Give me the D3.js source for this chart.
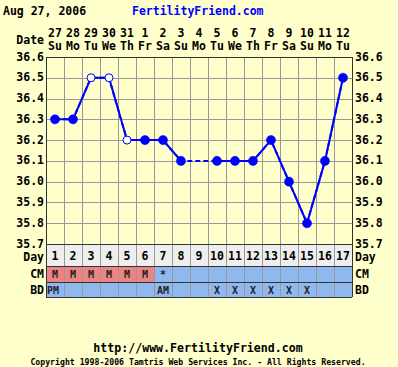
<!DOCTYPE html>
<html lang="en">
<head>
    <meta charset="UTF-8">
    <title>Fertility chart</title>
    <style>
        body,
        html {
            margin: 0;
            padding: 0;
            background: #ffffcc;
        }
        text {
            font-family: "DejaVu Sans Mono", monospace;
            font-weight: bold;
        }
    </style>
    <script src="https://d3js.org/d3.v7.min.js"></script>
</head>
<body>
<div id="chart"></div>
<script>
    // chart data
    const dayNums = [1, 2, 3, 4, 5, 6, 7, 8, 9, 10, 11, 12, 13, 14, 15, 16, 17];
    const dates = ["27", "28", "29", "30", "31", "1", "2", "3", "4", "5", "6", "7", "8", "9", "10", "11", "12"];
    const weekdays = ["Su", "Mo", "Tu", "We", "Th", "Fr", "Sa", "Su", "Mo", "Tu", "We", "Th", "Fr", "Sa", "Su", "Mo", "Tu"];
    const temps = [36.3, 36.3, 36.5, 36.5, 36.2, 36.2, 36.2, 36.1, null, 36.1, 36.1, 36.1, 36.2, 36.0, 35.8, 36.1, 36.5];
    const openPoint = [false, false, true, true, true, false, false, false, false, false, false, false, false, false, false, false, false];
    const cm = ["M", "M", "M", "M", "M", "M", "*", "", "", "", "", "", "", "", "", "", ""];
    const bd = ["PM", "", "", "", "", "", "AM", "", "", "X", "X", "X", "X", "X", "X", "", ""];
    const yTicks = [36.6, 36.5, 36.4, 36.3, 36.2, 36.1, 36.0, 35.9, 35.8, 35.7];

    (function () {
        const width = 398, height = 367;
        const pLeft = 46, pRight = 352, pTop = 57, pBottom = 244;

        const svg = d3.select('#chart').append('svg')
            .attr('width', width).attr('height', height)
            .style('display', 'block');

        svg.append('rect').attr('width', width).attr('height', height).attr('fill', '#ffffcc');

        const x = d3.scaleBand().domain(dayNums).range([pLeft, pRight]);
        const y = d3.scaleLinear().domain([35.7, 36.6]).range([pBottom, pTop]);
        const cx = d => x(d) + x.bandwidth() / 2;

        // header
        svg.append('text').attr('x', 3).attr('y', 15).attr('font-size', 11.5)
            .text('Aug 27, 2006');
        svg.append('text').attr('x', 132).attr('y', 15).attr('font-size', 11.5)
            .attr('fill', '#0000ff').text('FertilityFriend.com');

        svg.append('text').attr('x', 44).attr('y', 44).attr('font-size', 11.5)
            .attr('text-anchor', 'end').text('Date');
        svg.selectAll('.dnum').data(dayNums).enter().append('text')
            .attr('x', d => cx(d)).attr('y', 37).attr('font-size', 11.5)
            .attr('text-anchor', 'middle').text((d, i) => dates[i]);
        svg.selectAll('.wday').data(dayNums).enter().append('text')
            .attr('x', d => cx(d)).attr('y', 50).attr('font-size', 11.5)
            .attr('text-anchor', 'middle').text((d, i) => weekdays[i]);

        // table rows
        const rowDay = [pBottom, 266], rowCM = [266, 282], rowBD = [282, 297];
        svg.append('rect').attr('x', pLeft).attr('y', rowDay[0]).attr('width', pRight - pLeft)
            .attr('height', rowDay[1] - rowDay[0]).attr('fill', '#eeeeee');
        svg.selectAll('.cmcell').data(dayNums).enter().append('rect')
            .attr('x', d => x(d)).attr('y', rowCM[0]).attr('width', x.bandwidth())
            .attr('height', rowCM[1] - rowCM[0])
            .attr('fill', (d, i) => cm[i] === 'M' ? '#ec8484' : '#8eb8ee');
        svg.append('rect').attr('x', pLeft).attr('y', rowBD[0]).attr('width', pRight - pLeft)
            .attr('height', rowBD[1] - rowBD[0]).attr('fill', '#8eb8ee');

        // grid
        svg.selectAll('.vgrid').data(dayNums.slice(1)).enter().append('line')
            .attr('x1', d => x(d) + 0.5).attr('x2', d => x(d) + 0.5)
            .attr('y1', pTop).attr('y2', rowBD[1])
            .attr('stroke', '#999999').attr('stroke-width', 1);
        svg.selectAll('.hgrid').data(yTicks.slice(1, -1)).enter().append('line')
            .attr('x1', pLeft).attr('x2', pRight)
            .attr('y1', d => Math.round(y(d)) + 0.5).attr('y2', d => Math.round(y(d)) + 0.5)
            .attr('stroke', '#999999').attr('stroke-width', 1);

        // row separators and border
        [pTop, pBottom, rowDay[1], rowCM[1], rowBD[1]].forEach(v => {
            svg.append('line').attr('x1', pLeft).attr('x2', pRight)
                .attr('y1', v + 0.5).attr('y2', v + 0.5)
                .attr('stroke', '#333333').attr('stroke-width', 1);
        });
        [pLeft, pRight].forEach(v => {
            svg.append('line').attr('x1', v + 0.5).attr('x2', v + 0.5)
                .attr('y1', pTop).attr('y2', rowBD[1])
                .attr('stroke', '#333333').attr('stroke-width', 1);
        });

        // y labels
        svg.selectAll('.ylab').data(yTicks).enter().append('text')
            .attr('x', 44).attr('y', d => y(d) + 3.5).attr('font-size', 11.5)
            .attr('text-anchor', 'end').text(d => d.toFixed(1));
        svg.selectAll('.ylabr').data(yTicks).enter().append('text')
            .attr('x', 355).attr('y', d => y(d) + 3.5).attr('font-size', 11.5)
            .text(d => d.toFixed(1));

        // row labels
        const rowLabels = [['Day', rowDay, 260.5], ['CM', rowCM, 278], ['BD', rowBD, 294]];
        rowLabels.forEach(r => {
            svg.append('text').attr('x', 44).attr('y', r[2]).attr('font-size', 11.5)
                .attr('text-anchor', 'end').text(r[0]);
            svg.append('text').attr('x', 355).attr('y', r[2]).attr('font-size', 11.5).text(r[0]);
        });

        svg.selectAll('.daynum').data(dayNums).enter().append('text')
            .attr('x', d => cx(d)).attr('y', 259.5).attr('font-size', 11.5)
            .attr('text-anchor', 'middle').text(d => d);
        svg.selectAll('.cmtxt').data(dayNums).enter().append('text')
            .attr('x', d => cx(d)).attr('y', 278).attr('font-size', 10)
            .attr('text-anchor', 'middle').attr('fill', '#222')
            .text((d, i) => cm[i]);
        svg.selectAll('.bdtxt').data(dayNums).enter().append('text')
            .attr('x', (d, i) => bd[i] === 'PM' ? pLeft + 1 : cx(d))
            .attr('y', 294).attr('font-size', 10)
            .attr('text-anchor', (d, i) => bd[i] === 'PM' ? 'start' : 'middle')
            .attr('font-weight', (d, i) => bd[i] === 'X' ? 'normal' : 'bold')
            .attr('fill', '#222')
            .text((d, i) => bd[i]);

        // temperature line
        const pts = dayNums.map((d, i) => ({day: d, t: temps[i], open: openPoint[i]}));
        const line = d3.line().x(d => cx(d.day)).y(d => y(d.t));
        svg.append('path').datum(pts.filter(d => d.t !== null))
            .attr('d', line).attr('fill', 'none')
            .attr('stroke', '#0000ff').attr('stroke-width', 2).attr('stroke-dasharray', '5,3');
        svg.append('path').datum(pts)
            .attr('d', line.defined(d => d.t !== null)).attr('fill', 'none')
            .attr('stroke', '#0000ff').attr('stroke-width', 2);
        svg.selectAll('.pt').data(pts.filter(d => d.t !== null)).enter().append('circle')
            .attr('cx', d => cx(d.day)).attr('cy', d => y(d.t))
            .attr('r', d => d.open ? 4 : 4.6)
            .attr('fill', d => d.open ? '#ffffff' : '#0000ff')
            .attr('stroke', '#0000ff').attr('stroke-width', d => d.open ? 1 : 0.5);

        // footer
        svg.append('text').attr('x', 198).attr('y', 352).attr('font-size', 11.6)
            .attr('text-anchor', 'middle').text('http://www.FertilityFriend.com');
        svg.append('text').attr('x', 198).attr('y', 365).attr('font-size', 8.2)
            .attr('text-anchor', 'middle').attr('font-weight', 'normal')
            .text('Copyright 1998-2006 Tamtris Web Services Inc. - All Rights Reserved.');
    }());
</script>
</body>
</html>
